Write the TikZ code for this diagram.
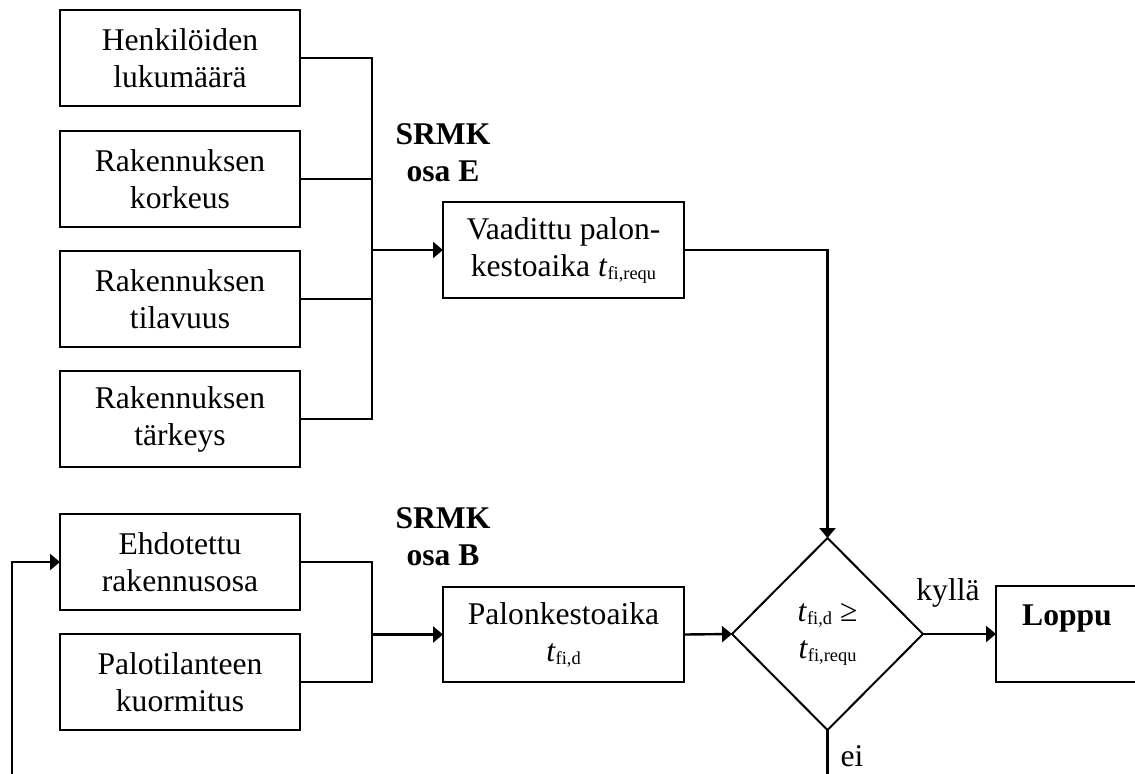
\documentclass[tikz,border=0pt]{standalone}
\usepackage{fontspec}
\setmainfont{Liberation Serif}
\usetikzlibrary{shapes.geometric,arrows.meta}
\newcommand\tsub[1]{\textit{t}\raisebox{-1.5pt}{\fontsize{9.2pt}{10pt}\selectfont #1}}
\begin{document}
\begin{tikzpicture}[x=0.5pt,y=-0.5pt,
  every node/.style={font=\fontsize{15.8pt}{18.5pt}\selectfont},
  box/.style={draw,line width=1pt,minimum width=120pt,minimum height=48pt,inner sep=0pt,outer sep=0pt,align=center},
  dia/.style={draw,line width=1pt,diamond,minimum width=95.5pt,minimum height=96pt,inner sep=0pt,outer sep=0pt,align=center},
  conn/.style={line width=1.1pt},
  arr/.style={line width=1.2pt,-{Triangle[length=5pt,width=8pt]}},
  lbl/.style={align=center,inner sep=0pt}]
\useasboundingbox (0,0) rectangle (1135,773);
\clip (0,0) rectangle (1135,773);
% top input boxes
\node[box] (h1) at (180,58) {Henkilöiden\\lukumäärä};
\node[box] (h2) at (180,179) {Rakennuksen\\korkeus};
\node[box] (h3) at (180,299) {Rakennuksen\\tilavuus};
\node[box] (h4) at (180,419) {Rakennuksen\\tärkeys};
\node[box,minimum width=120.5pt] (vaad) at (563.5,250) {Vaadittu palon-\\kestoaika \tsub{fi,requ}};
\node[lbl,font=\fontsize{15.8pt}{18.5pt}\selectfont\bfseries] (srmkE) at (443,153) {SRMK\\osa E};
% bottom input boxes
\node[box] (ehd) at (180,562) {Ehdotettu\\rakennusosa};
\node[box] (palo) at (180,682) {Palotilanteen\\kuormitus};
\node[box,minimum width=120.5pt,minimum height=47.5pt] (pk) at (563.5,634.5) {Palonkestoaika\\\tsub{fi,d}};
\node[lbl,font=\fontsize{15.8pt}{18.5pt}\selectfont\bfseries] (srmkB) at (443,536.5) {SRMK\\osa B};
% decision
\node[dia] (d) at (827.5,634) {\tsub{fi,d} ≥\\\tsub{fi,requ}};
\node[box,minimum width=71pt] (loppu) at (1067,634) {\textbf{Loppu}\\\mbox{}};
\node[lbl] (kylla) at (948,593) {kyllä};
\node[lbl,anchor=base] (ei) at (852,766) {ei};
% coordinates
\coordinate (jE) at (372,250);
\coordinate (jB) at (372,634.5);
\coordinate (fb) at (12,780);
\coordinate (dout) at (827.5,780);
% connectors top
\draw[conn] (h1.east) -| (jE) |- (h4.east);
\draw[conn] (h2.east) -- (h2.east -| jE);
\draw[conn] (h3.east) -- (h3.east -| jE);
\draw[arr] (jE) -- (vaad.west);
\draw[arr] (vaad.east) -| (d.north);
% connectors bottom
\draw[conn] (ehd.east) -| (jB) |- (palo.east);
\draw[arr] (jB) -- (pk.west);
\draw[arr] (pk.east) -- (d.west);
\draw[arr] (d.east) -- (loppu.west);
\draw[conn] (d.south) -- (dout);
\draw[arr] (fb) |- (ehd.west);
\end{tikzpicture}
\end{document}
